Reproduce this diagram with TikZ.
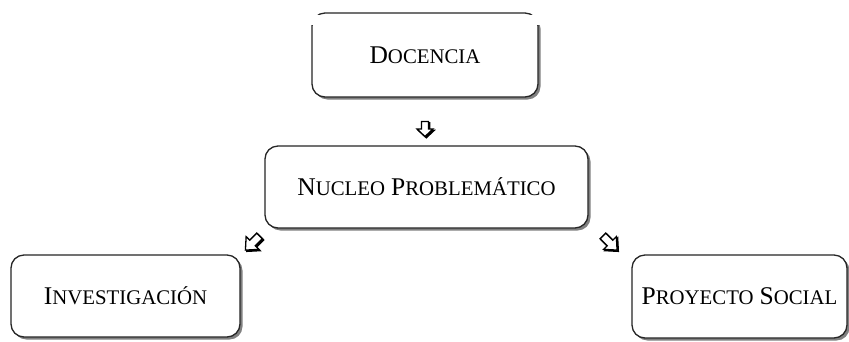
\documentclass[tikz,border=0pt]{standalone}
\usepackage{fontspec}
\setmainfont{Liberation Serif}
\usetikzlibrary{shadows}
\newcommand\capsc[2]{{\fontsize{25.5}{30}\selectfont #1}{\fontsize{20.8}{25}\selectfont #2}}
\newcommand\wsp{\hspace{6pt}}
\begin{document}
\begin{tikzpicture}[x=1pt,y=-1pt,
  box/.style={draw=black!85, line width=1.3pt, rounded corners=13pt, fill=white,
    inner sep=0pt,
    drop shadow={shadow xshift=2.5pt, shadow yshift=-2.5pt, fill=black!50, opacity=1}},
  arrowline/.style={line width=1.3pt, line join=miter},
  blockfront/.style={arrowline, draw=black, fill=white},
  blockback/.style={arrowline, draw=black, fill=black}]
\fill[white] (0,0) rectangle (849,341);
\useasboundingbox (0,0) rectangle (849,341);

\node[box, minimum width=226pt, minimum height=84pt] (doc) at (425,55) {\capsc{D}{OCENCIA}};
\fill[white] (295,15.2) rectangle (565,25);

\node[box, minimum width=323pt, minimum height=82pt] (nuc) at (426.5,187) {\capsc{N}{UCLEO}\wsp\capsc{P}{ROBLEMÁTICO}};
\node[box, minimum width=229pt, minimum height=82pt] (inv) at (125.5,296) {\capsc{I}{NVESTIGACIÓN}};
\node[box, minimum width=215pt, minimum height=83pt] (pro) at (739.5,296.5) {\capsc{P}{ROYECTO}\wsp\capsc{S}{OCIAL}};

% block arrows (drawn pointing along local +x, then rotated)
\coordinate (a1) at (425,129);
\coordinate (a2) at (252.5,243);
\coordinate (a3) at (610,243);
\foreach \c/\ang/\L/\W/\S in {a1/-90/7.5/8/3.5, a2/-135/10/9/4, a3/-45/10/9/4}{
  \begin{scope}[shift={(\c)}, xshift=1.3pt, yshift=-1.3pt, rotate=\ang]
    \path[blockback] (-\L,-\S) -- (0,-\S) -- (0,-\W) -- (\L,0) -- (0,\W) -- (0,\S) -- (-\L,\S) -- cycle;
  \end{scope}
  \begin{scope}[shift={(\c)}, rotate=\ang]
    \path[blockfront] (-\L,-\S) -- (0,-\S) -- (0,-\W) -- (\L,0) -- (0,\W) -- (0,\S) -- (-\L,\S) -- cycle;
  \end{scope}
}
\end{tikzpicture}
\end{document}
